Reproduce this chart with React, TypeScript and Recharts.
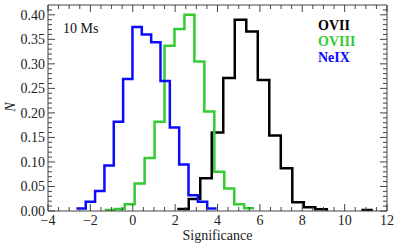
import { LineChart, Line, XAxis, YAxis, Label } from 'recharts';

// histogram bins: first edge, bin width, heights
const neixStart = -2.66;
const neixWidth = 0.441;
const neixCounts = [0.005, 0.019, 0.041, 0.093, 0.182, 0.269, 0.375, 0.36, 0.344, 0.265, 0.17, 0.095, 0.032, 0.019, 0.005];

const oviiiStart = -1.32;
const oviiiWidth = 0.47;
const oviiiCounts = [0.002, 0.004, 0.014, 0.056, 0.108, 0.182, 0.337, 0.371, 0.4, 0.305, 0.203, 0.08, 0.046, 0.014, 0.0055];

const oviiStart = 2.1;
const oviiWidth = 0.543;
const oviiCounts: (number | null)[] = [0.004, 0.0245, 0.067, 0.16, 0.271, 0.39, 0.366, 0.267, 0.154, 0.087, 0.018, 0.0075, 0.0035, 0, null, null, 0.002];

const xMajor = [-4, -2, 0, 2, 4, 6, 8, 10, 12];
const yMajor = [0, 0.05, 0.1, 0.15, 0.2, 0.25, 0.3, 0.35, 0.4];

const xTicks: number[] = [];
for (let i = -8; i <= 24; i++) xTicks.push(i / 2);
const yTicks: number[] = [];
for (let i = 0; i <= 41; i++) yTicks.push(i / 100);

const toSteps = (start: number, width: number, counts: (number | null)[]) => {
  const pts = counts.map((c, i) => ({ x: start + i * width, y: c }));
  pts.push({ x: start + counts.length * width, y: counts[counts.length - 1] });
  return pts;
};

const neix = toSteps(neixStart, neixWidth, neixCounts);
const oviii = toSteps(oviiiStart, oviiiWidth, oviiiCounts);
const ovii = toSteps(oviiStart, oviiWidth, oviiCounts);

const FONT = '"Liberation Serif", "DejaVu Serif", serif';
const AXIS = '#444';
const BLUE = '#0a0aff';
const GREEN = '#33cc33';

const isMajorX = (v: number) => xMajor.some((m) => Math.abs(m - v) < 1e-6);
const isMajorY = (v: number) => yMajor.some((m) => Math.abs(m - v) < 1e-6);
const fmtX = (v: number) => (v < 0 ? '\u2212' + Math.abs(v) : String(v));

const BottomTick = (props: any) => {
  const { x, y, payload } = props;
  const major = isMajorX(payload.value);
  return (
    <g>
      <line x1={x} y1={y} x2={x} y2={y - (major ? 7 : 4)} stroke={AXIS} />
      {major && (
        <text x={x} y={y + 14} textAnchor="middle" fontSize={14} fontFamily={FONT} fill="#222">
          {fmtX(payload.value)}
        </text>
      )}
    </g>
  );
};

const TopTick = (props: any) => {
  const { x, y, payload } = props;
  const major = isMajorX(payload.value);
  return <line x1={x} y1={y} x2={x} y2={y + (major ? 7 : 4)} stroke={AXIS} />;
};

const LeftTick = (props: any) => {
  const { x, y, payload } = props;
  const major = isMajorY(payload.value);
  return (
    <g>
      <line x1={x} y1={y} x2={x + (major ? 7 : 4)} y2={y} stroke={AXIS} />
      {major && (
        <text x={x - 3} y={y} dy="0.35em" textAnchor="end" fontSize={14} fontFamily={FONT} fill="#222">
          {payload.value.toFixed(2)}
        </text>
      )}
    </g>
  );
};

const RightTick = (props: any) => {
  const { x, y, payload } = props;
  const major = isMajorY(payload.value);
  return <line x1={x} y1={y} x2={x - (major ? 7 : 4)} y2={y} stroke={AXIS} />;
};

export default function App() {
  return (
    <div style={{ position: 'absolute', left: 0, top: 0 }}>
      <LineChart width={399} height={248} margin={{ top: 0, right: 0, bottom: 0, left: 0 }}>
        <XAxis
          dataKey="x"
          type="number"
          domain={[-4, 12]}
          ticks={xTicks}
          interval={0}
          allowDataOverflow
          tickLine={false}
          tickSize={0}
          tickMargin={0}
          height={37}
          axisLine={{ stroke: AXIS }}
          tick={BottomTick}
        >
          <Label value="Significance" position="insideBottom" offset={8} fontSize={14} fontFamily={FONT} fill="#222" />
        </XAxis>
        <XAxis
          xAxisId="top"
          orientation="top"
          dataKey="x"
          type="number"
          domain={[-4, 12]}
          ticks={xTicks}
          interval={0}
          allowDataOverflow
          tickLine={false}
          tickSize={0}
          tickMargin={0}
          height={5}
          axisLine={{ stroke: AXIS }}
          tick={TopTick}
        />
        <YAxis
          type="number"
          domain={[0, 0.42]}
          ticks={yTicks}
          interval={0}
          allowDataOverflow
          tickLine={false}
          tickSize={0}
          tickMargin={0}
          width={48}
          axisLine={{ stroke: AXIS }}
          tick={LeftTick}
        />
        <YAxis
          yAxisId="right"
          orientation="right"
          type="number"
          domain={[0, 0.42]}
          ticks={yTicks}
          interval={0}
          allowDataOverflow
          tickLine={false}
          tickSize={0}
          tickMargin={0}
          width={12}
          axisLine={{ stroke: AXIS }}
          tick={RightTick}
        />
        <Line data={ovii} dataKey="y" type="stepAfter" stroke="#000" strokeWidth={2.5} dot={false} isAnimationActive={false} />
        <Line data={oviii} dataKey="y" type="stepAfter" stroke={GREEN} strokeWidth={2.5} dot={false} isAnimationActive={false} />
        <Line data={neix} dataKey="y" type="stepAfter" stroke={BLUE} strokeWidth={2.5} dot={false} isAnimationActive={false} />
        <text x={63} y={33} fontSize={14} fontFamily={FONT} fill="#111">10 Ms</text>
        <text x={318} y={30} fontSize={14} fontWeight="bold" fontFamily={FONT} fill="#000">OVII</text>
        <text x={318} y={46} fontSize={14} fontWeight="bold" fontFamily={FONT} fill={GREEN}>OVIII</text>
        <text x={318} y={62} fontSize={14} fontWeight="bold" fontFamily={FONT} fill={BLUE}>NeIX</text>
        <text transform="translate(15,107) rotate(-90)" textAnchor="middle" fontSize={14} fontStyle="italic" fontFamily={FONT} fill="#222">N</text>
      </LineChart>
    </div>
  );
}
